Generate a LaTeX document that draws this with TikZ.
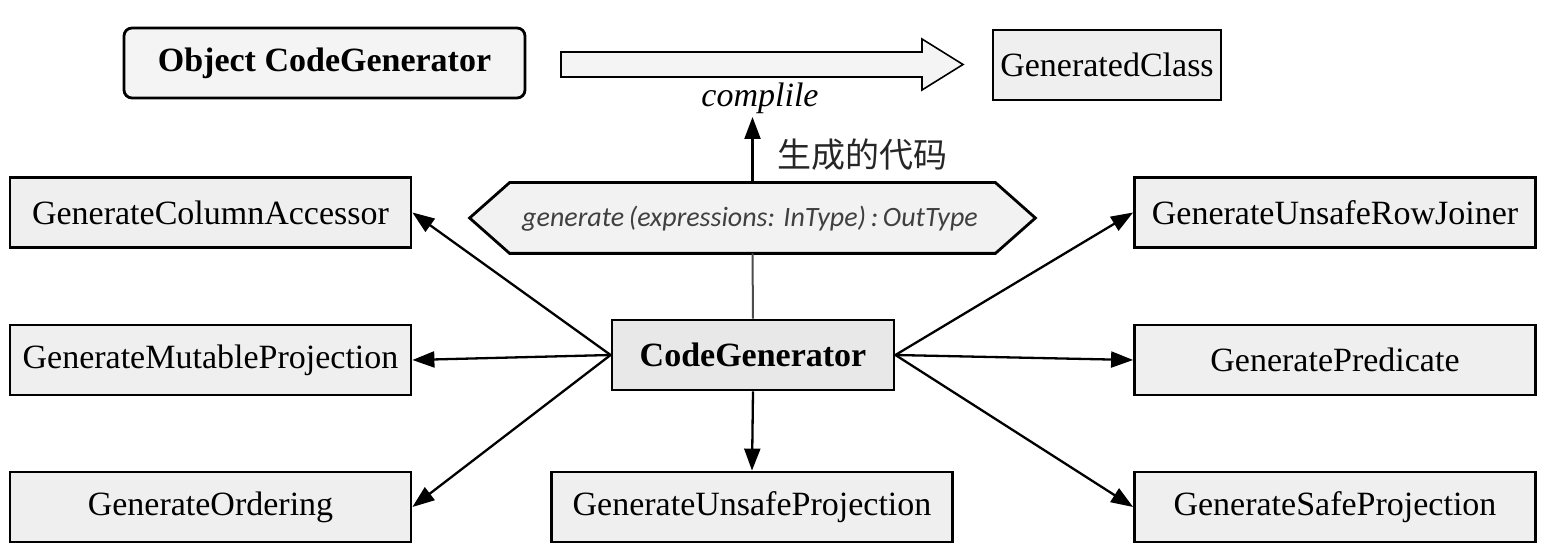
\documentclass[tikz,border=0pt]{standalone}
\usepackage{fontspec}
\setmainfont{Liberation Serif}
\newfontfamily\cjk{Noto Sans CJK SC}
\newfontfamily\calib{Carlito}
\usetikzlibrary{arrows.meta}
\definecolor{boxfill}{HTML}{EFEFEF}
\definecolor{objfill}{HTML}{F4F4F4}
\definecolor{cgfill}{HTML}{E8E8E8}
\definecolor{hexfill}{HTML}{F2F2F2}
\definecolor{hextext}{HTML}{404040}
\tikzset{
  gbox/.style={draw=black, line width=1.4pt, fill=boxfill, minimum height=35pt, inner sep=0pt,
    font=\fontsize{17}{20}\selectfont},
  sidebox/.style={gbox, minimum width=200.5pt},
  conn/.style={line width=1.15pt, -{Triangle[length=11pt,width=8pt]}},
}
\begin{document}
\begin{tikzpicture}[x=0.5pt,y=-0.5pt]
\useasboundingbox (0,0) rectangle (1565,555);
% top row
\node[gbox, fill=objfill, rounded corners=4pt, minimum width=200.5pt, font=\fontsize{17}{20}\selectfont\bfseries] (obj) at (324.5,63) {Object CodeGenerator};
\node[gbox, minimum width=114pt] (gen) at (1107,65) {GeneratedClass};
\draw[line width=0.8pt, fill=objfill] (561,52) -- (922,52) -- (922,39) -- (963,64.5) -- (922,90) -- (922,77) -- (561,77) -- cycle;
\node[font=\fontsize{17}{20}\selectfont\itshape] (comp) at (760,98) {complile};
% hexagon
\node[minimum width=282.5pt, minimum height=35pt, inner sep=0pt] (hex) at (752.5,218) {};
\draw[line width=1.4pt, fill=hexfill] (hex.west) -- ([xshift=20pt]hex.north west) -- ([xshift=-20pt]hex.north east) -- (hex.east) -- ([xshift=-20pt]hex.south east) -- ([xshift=20pt]hex.south west) -- cycle;
\node[text=hextext, font=\calib\itshape\fontsize{14}{16}\selectfont] (hextxt) at (750,219) {generate\,(expressions: InType)\,:\,OutType};
\coordinate (up) at (752.5,117);
\draw[conn] (hex.north) -- (up);
\node[anchor=west, font=\cjk\fontsize{17}{19}\selectfont, text=black!85] (zh) at (770,155) {生成的代码};
% center
\node[gbox, fill=cgfill, minimum width=141pt, font=\fontsize{17}{20}\selectfont\bfseries] (cg) at (753,355) {CodeGenerator};
\draw[line width=1pt, draw=black!70] (hex.south) -- (cg.north);
% left
\node[sidebox] (l1) at (210.5,212.5) {GenerateColumnAccessor};
\node[sidebox] (l2) at (210.5,360) {GenerateMutableProjection};
\node[sidebox] (l3) at (210.5,507) {GenerateOrdering};
% right
\node[sidebox] (r1) at (1335,212.5) {GenerateUnsafeRowJoiner};
\node[sidebox] (r2) at (1335,360) {GeneratePredicate};
\node[sidebox] (r3) at (1335,507) {GenerateSafeProjection};
% bottom
\node[sidebox] (b1) at (752,507) {GenerateUnsafeProjection};
% connectors
\draw[conn] (cg.west) -- (l1.east);
\draw[conn] (cg.west) -- (l2.east);
\draw[conn] (cg.west) -- (l3.east);
\draw[conn] (cg.east) -- (r1.west);
\draw[conn] (cg.east) -- (r2.west);
\draw[conn] (cg.east) -- (r3.west);
\draw[conn] (cg.south) -- (b1.north);
\end{tikzpicture}
\end{document}
